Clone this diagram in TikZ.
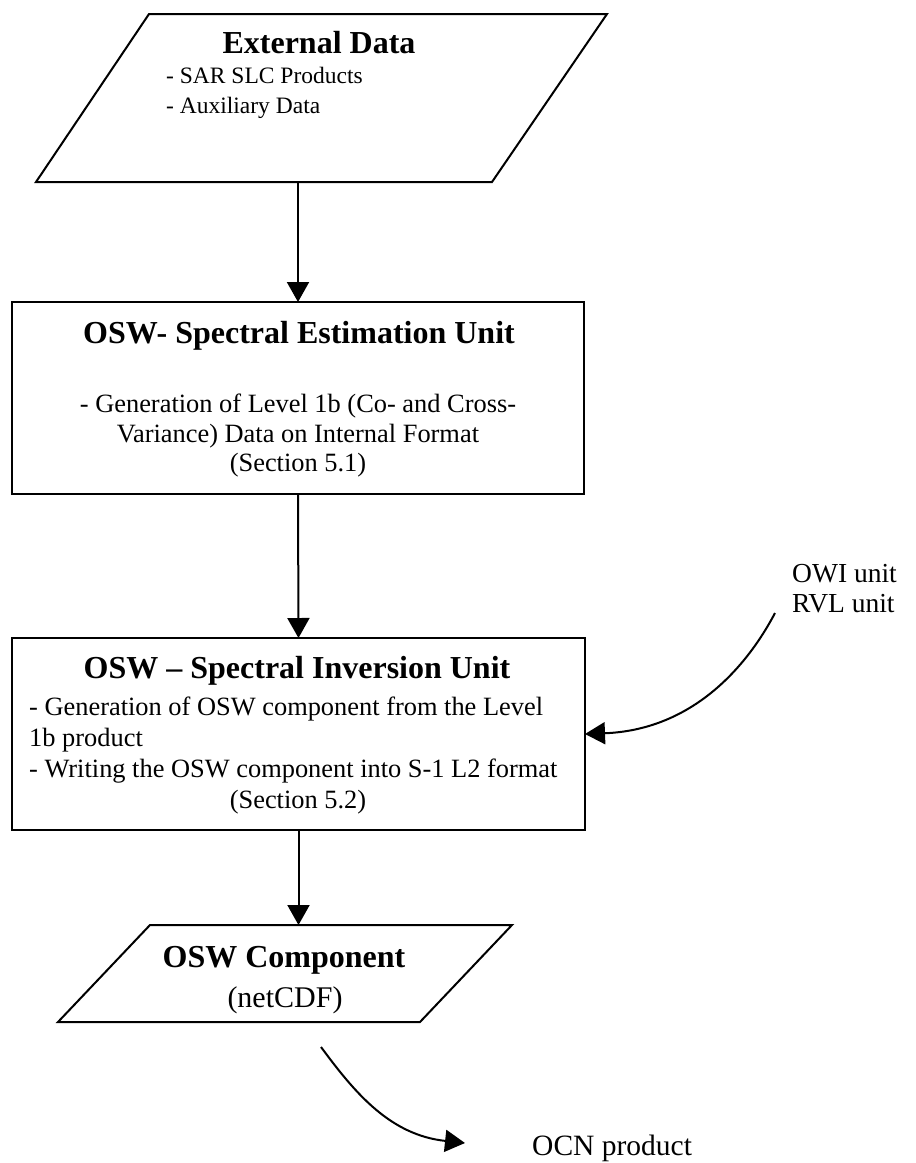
\documentclass[tikz,border=0pt]{standalone}
\usepackage{fontspec}
\setmainfont{Liberation Serif}
\usetikzlibrary{arrows.meta}
\begin{document}
\begin{tikzpicture}[x=1pt,y=-1pt,
  outl/.style={draw=black, line width=2pt, line join=miter, inner sep=0pt, outer sep=0pt},
  region/.style={inner sep=0pt, outer sep=0pt},
  conn/.style={line width=2pt, -{Triangle[length=20pt,width=22pt]}},
  ttl/.style={font=\fontsize{32}{38}\selectfont\bfseries, anchor=base, inner sep=0pt},
  bodytxt/.style={font=\fontsize{26.4}{30}\selectfont, anchor=base, inner sep=0pt},
  smalltxt/.style={font=\fontsize{23.5}{28}\selectfont, anchor=base west, inner sep=0pt},
  outtxt/.style={font=\fontsize{27.5}{32}\selectfont, anchor=base west, inner sep=0pt}]
\useasboundingbox (0,0) rectangle (916,1163);

% shapes
\node[region, minimum width=571pt, minimum height=168pt] (ext) at (321.5,98) {};
\draw[outl] (149,14) -- (607,14) -- (492,182) -- (36,182) -- cycle;
\node[outl, rectangle, minimum width=572pt, minimum height=192pt] (box1) at (298,398) {};
\node[outl, rectangle, minimum width=573pt, minimum height=192pt] (box2) at (298.5,734) {};
\node[region, minimum width=454pt, minimum height=97pt] (osw) at (285,973.5) {};
\draw[outl] (150,925) -- (512,925) -- (420,1022) -- (58,1022) -- cycle;

% texts
\node[ttl] (extT) at (319,53) {External Data};
\node[smalltxt] (extA) at (166,83) {- SAR SLC Products};
\node[smalltxt] (extB) at (166,113) {- Auxiliary Data};

\node[ttl] (b1T) at (299,343) {OSW- Spectral Estimation Unit};
\node[bodytxt] (b1A) at (298,412) {- Generation of Level 1b (Co- and Cross-};
\node[bodytxt] (b1B) at (298,442) {Variance) Data on Internal Format};
\node[bodytxt] (b1C) at (298,471) {(Section 5.1)};

\node[ttl] (b2T) at (297,678) {OSW -- Spectral Inversion Unit};
\node[bodytxt, anchor=base west] (b2A) at (29,715) {- Generation of OSW component from the Level};
\node[bodytxt, anchor=base west] (b2B) at (29,746) {1b product};
\node[bodytxt, anchor=base west] (b2C) at (29,777) {- Writing the OSW component into S-1 L2 format};
\node[bodytxt] (b2D) at (298,808) {(Section 5.2)};

\node[ttl] (oswT) at (284,967) {OSW Component};
\node[font=\fontsize{30}{34}\selectfont, anchor=base, inner sep=0pt] (oswB) at (285,1007) {(netCDF)};

\node[outtxt] (owi) at (792,582) {OWI unit};
\node[outtxt] (rvl) at (792,612) {RVL unit};
\node[font=\fontsize{29.5}{34}\selectfont, anchor=base west, inner sep=0pt] (ocn) at (532,1155) {OCN product};

% connectors
\draw[conn] (box1.north |- ext.south) -- (box1.north);
\draw[conn] (box1.south) -- (box2.north);
\draw[conn] (box2.south) -- (box2.south |- osw.north);

\coordinate (inS) at (775,613);
\draw[conn] (inS) .. controls (745,670) and (690,730) .. (box2.east);

\coordinate (outS) at (321,1047);
\coordinate (outE) at (465,1143);
\draw[conn] (outS) .. controls (355,1093) and (390,1135) .. (outE);
\end{tikzpicture}
\end{document}
